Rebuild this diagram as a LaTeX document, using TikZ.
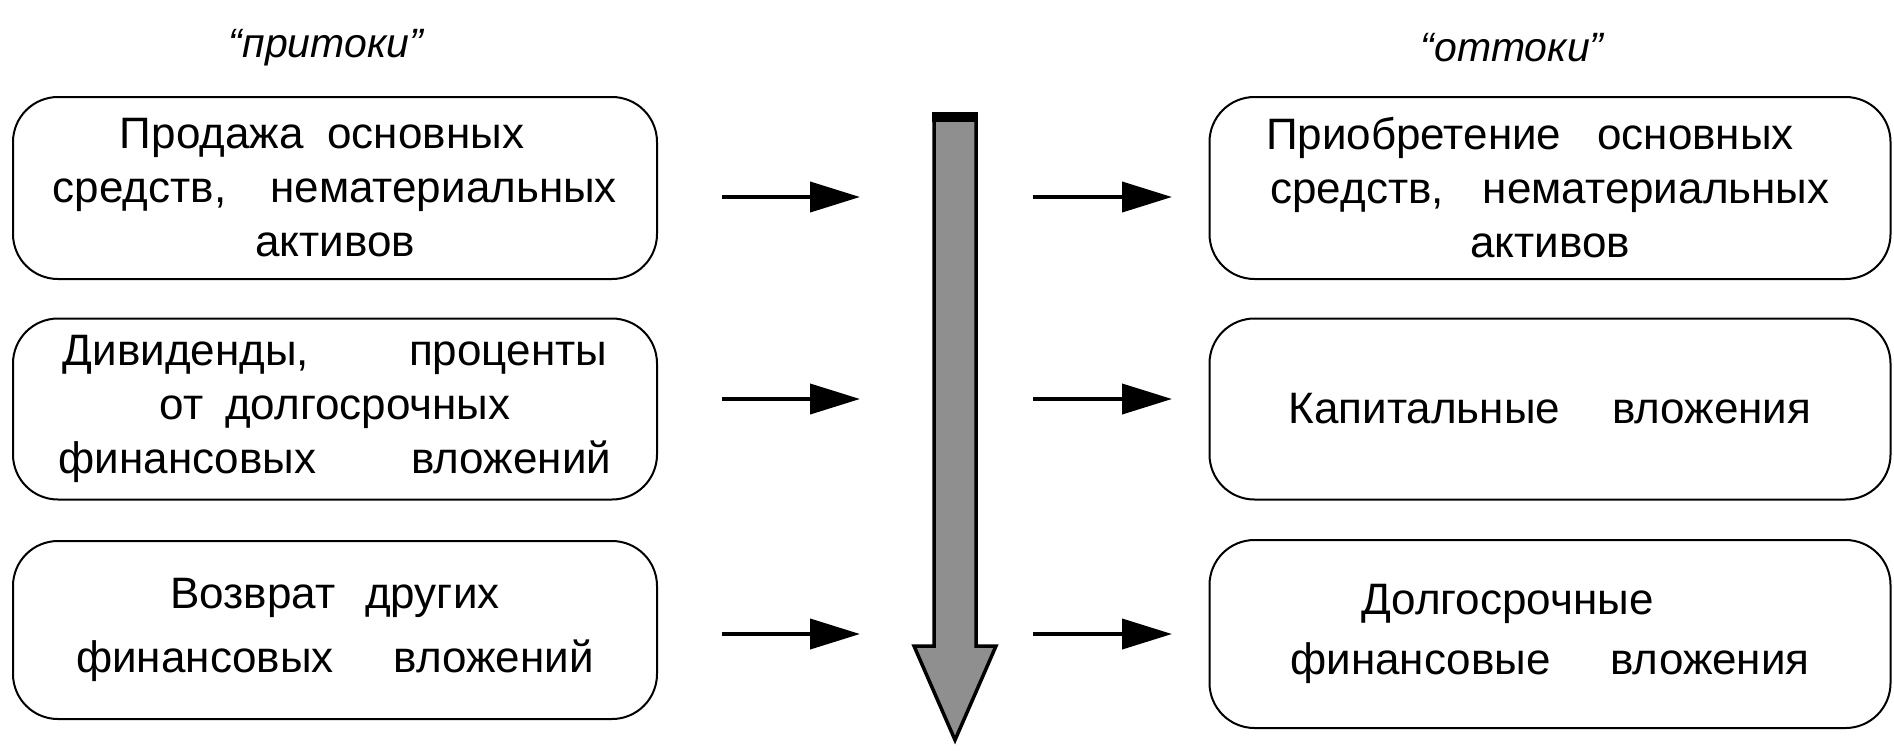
\documentclass[tikz,border=0pt]{standalone}
\usepackage{fontspec}
\setmainfont{Liberation Sans}
\usetikzlibrary{arrows.meta}
\definecolor{arrowgray}{HTML}{8F8F8F}
\begin{document}
\begin{tikzpicture}[x=1pt,y=-1pt,
  box/.style={draw, line width=2pt, rounded corners=45pt, align=center, inner sep=0pt,
    font=\fontsize{44}{54}\selectfont},
  flow/.style={line width=4pt, -{Triangle[length=50pt,width=30pt]}},
  title/.style={font=\itshape\fontsize{41}{50}\selectfont, inner sep=0pt}]
\useasboundingbox (0,0) rectangle (1894,750);

\node[title] (tin) at (326,48) {“притоки”};
\node[title] (tout) at (1512,48) {“оттоки”};

\node[box, minimum width=644pt, minimum height=182pt] (L1) at (335,188)
  {Продажа\hspace{24pt}основных\hspace*{26pt}\\средств,\hspace{44pt}нематериальных\\активов};
\node[box, minimum width=644pt, minimum height=181pt] (L2) at (335,409)
  {Дивиденды,\hspace{100pt}проценты\\от\hspace{22pt}долгосрочных\\финансовых\hspace{95pt}вложений};
\node[box, minimum width=644pt, minimum height=178pt, font=\fontsize{44}{64}\selectfont] (L3) at (335,630)
  {Возврат\hspace{30pt}других\\финансовых\hspace{60pt}вложений};

\node[box, minimum width=681pt, minimum height=182pt] (R1) at (1550,188)
  {Приобретение\hspace{36pt}основных\hspace*{40pt}\\средств,\hspace{39pt}нематериальных\\активов};
\node[box, minimum width=681pt, minimum height=181pt] (R2) at (1550,409)
  {Капитальные\hspace{52pt}вложения};
\node[box, minimum width=681pt, minimum height=188pt, font=\fontsize{44}{60}\selectfont] (R3) at (1550,634)
  {Долгосрочные\hspace*{85pt}\\финансовые\hspace{60pt}вложения};

\coordinate (a1s) at (722,197); \coordinate (a1e) at (860,197);
\coordinate (a2s) at (722,399); \coordinate (a2e) at (860,399);
\coordinate (a3s) at (722,634); \coordinate (a3e) at (860,634);
\coordinate (b1s) at (1033,197); \coordinate (b1e) at (1172,197);
\coordinate (b2s) at (1033,399); \coordinate (b2e) at (1172,399);
\coordinate (b3s) at (1033,634); \coordinate (b3e) at (1172,634);
\foreach \s/\e in {a1s/a1e,a2s/a2e,a3s/a3e,b1s/b1e,b2s/b2e,b3s/b3e}
  \draw[flow] (\s) -- (\e);

\filldraw[fill=arrowgray, draw=black, line width=3.5pt, line join=miter]
  (934,117) -- (976,117) -- (976,646) -- (996,646) -- (955,740) -- (914,646) -- (934,646) -- cycle;
\fill[black] (932,112) rectangle (978,122);
\end{tikzpicture}
\end{document}
